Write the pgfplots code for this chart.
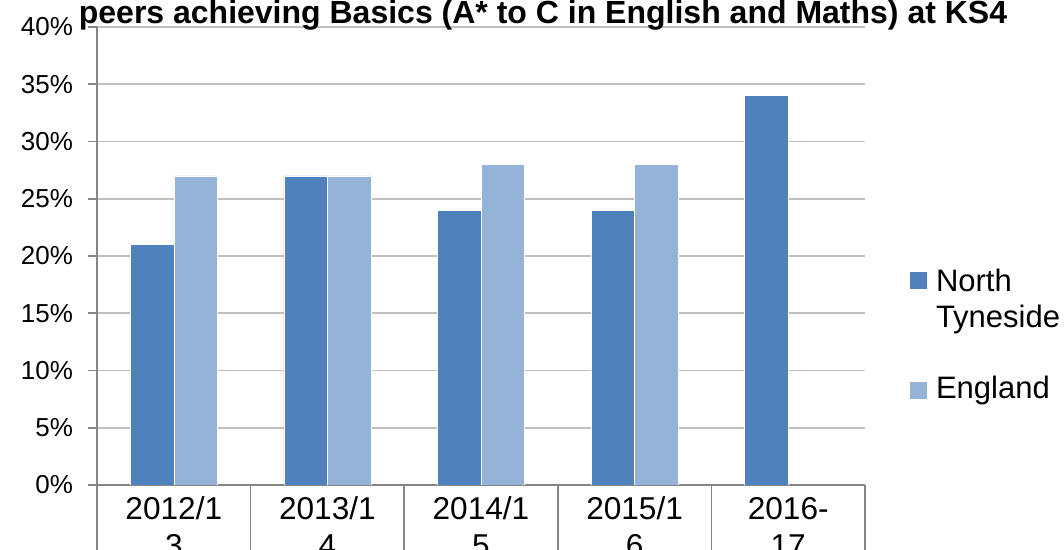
\documentclass[border=0pt]{standalone}
\usepackage{pgfplots}
\pgfplotsset{compat=1.18}
\usepackage{fontspec}
\setmainfont{Liberation Sans}
\definecolor{ntblue}{HTML}{4F81BD}
\definecolor{engblue}{HTML}{95B3D7}
\definecolor{axisgray}{HTML}{868686}
\definecolor{gridgray}{HTML}{BFBFBF}

\begin{document}
\begin{tikzpicture}
\begin{axis}[
    at={(48.5pt,32.5pt)}, anchor=south west,
    scale only axis, width=384pt, height=229pt,
    ybar=0pt, bar width=21.75pt,
    xmin=-0.5, xmax=4.5, ymin=0, ymax=40,
    axis x line=bottom, axis y line=left,
    axis line style={-, draw=axisgray, line width=0.8pt},
    xtick={0,...,4},
    xticklabels={{2012/1\\3},{2013/1\\4},{2014/1\\5},{2015/1\\6},{2016-\\17}},
    x tick label style={align=center, anchor=north, font=\fontsize{15.8}{18.5}\selectfont, yshift=2pt},
    minor xtick={-0.5,0.5,...,4.5},
    major x tick style={draw=none},
    minor x tick style={draw=axisgray, line width=0.8pt},
    minor tick length=40pt,
    tick align=outside,
    ytick={0,5,...,40},
    yticklabel={\pgfmathprintnumber{\tick}\%},
    y tick label style={font=\fontsize{13}{15}\selectfont, xshift=-4pt},
    /pgf/number format/assume math mode=true,
    major tick length=4.5pt,
    major y tick style={draw=axisgray, line width=0.8pt},
    ymajorgrids, grid style={draw=gridgray, line width=0.8pt},
    legend cell align=left,
    legend style={at={(1,0.4716)}, anchor=north west, xshift=22.5pt,
        draw=none, fill=none, inner sep=0pt, column sep=4.5pt, row sep=21pt,
        nodes={inner sep=0pt, text depth=, align=left, font=\fontsize{15.5}{18}\selectfont}},
]
\addplot[fill=ntblue, draw=white, line width=0.3pt,
    legend image code/.code={\path[draw=none, fill=none] (0pt,-15pt) rectangle (8pt,15pt); \fill[ntblue] (0pt,6.9pt) rectangle (8pt,14.9pt);}]
    coordinates {(0,21) (1,27) (2,24) (3,24) (4,34)};
\addlegendentry{North\\Tyneside}
\addplot[fill=engblue, draw=white, line width=0.3pt,
    legend image code/.code={\fill[engblue] (0pt,-4pt) rectangle (8pt,4pt);}]
    coordinates {(0,27) (1,27) (2,28) (3,28)};
\addlegendentry{England}
\end{axis}
\node[anchor=base, font=\bfseries\fontsize{16}{19}\selectfont] at (271.5pt,263pt)
    {peers achieving Basics (A* to C in English and Maths) at KS4};
\pgfresetboundingbox
\useasboundingbox (0,0) rectangle (532pt,275pt);
\end{tikzpicture}
\end{document}
